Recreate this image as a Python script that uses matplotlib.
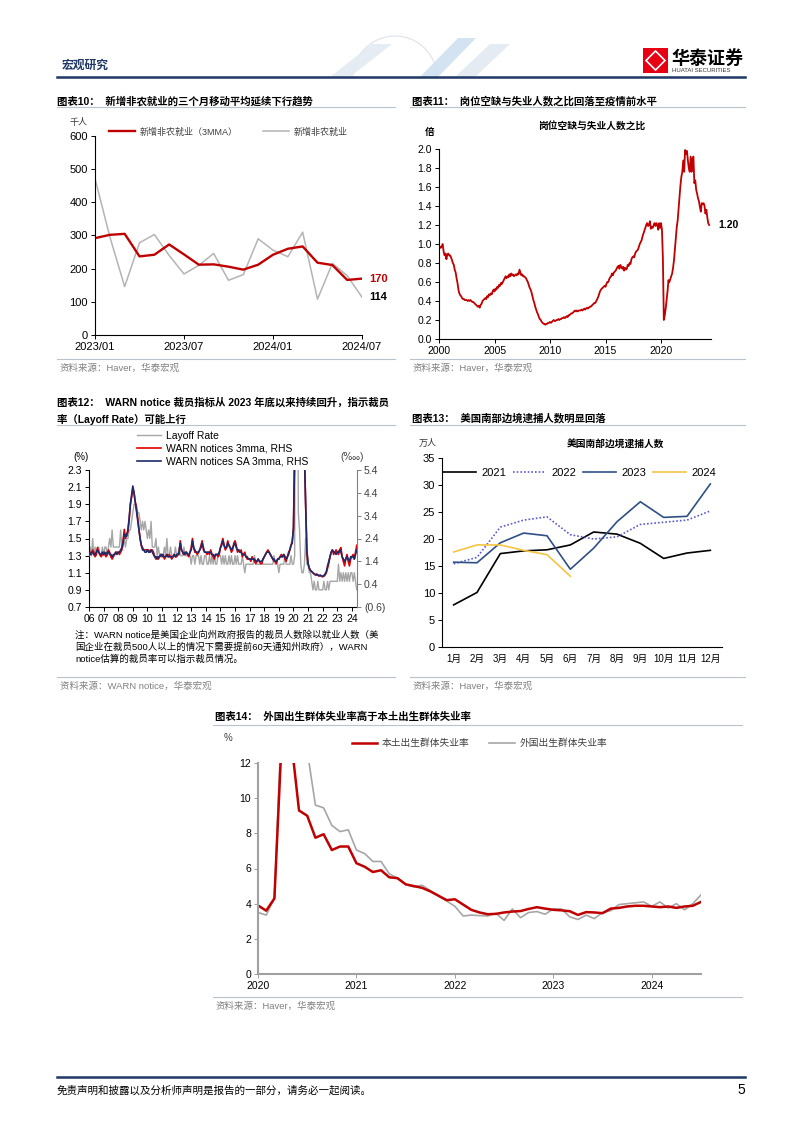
"""
plot.py

Recreate page 5 of the macro report: five small charts on one page
(non-farm payrolls, V/U ratio, WARN layoffs, border arrests, unemployment
by birth origin). Saves out.png at 802x1133.
"""

import matplotlib
matplotlib.use("Agg")
import matplotlib.pyplot as plt
import numpy as np
from matplotlib.lines import Line2D
from matplotlib.patches import Rectangle, Polygon, Arc

# ---------------------------------------------------------------- data ----
# chart 10: non-farm payrolls, thousand persons
months10 = ["2023/01", "2023/02", "2023/03", "2023/04", "2023/05", "2023/06",
            "2023/07", "2023/08", "2023/09", "2023/10", "2023/11", "2023/12",
            "2024/01", "2024/02", "2024/03", "2024/04", "2024/05", "2024/06",
            "2024/07"]
nfp_3mma = [292, 302, 305, 237, 242, 273, 243, 212, 213, 206, 197, 212,
            242, 260, 267, 218, 211, 166, 170]
nfp = [472, 296, 146, 278, 303, 240, 184, 210, 246, 165, 182, 290,
       256, 236, 310, 108, 216, 179, 114]

# chart 11: job openings / unemployed, monthly from 2000-01
vu_start = 2000
vu_ratio = [
    0.95, 0.97, 0.96, 0.98, 1.00, 0.92, 0.88, 0.90, 0.84, 0.89, 0.90, 0.88,
    0.88, 0.86, 0.83, 0.80, 0.78, 0.73, 0.70, 0.64, 0.59, 0.52, 0.48, 0.46,
    0.45, 0.43, 0.42, 0.42, 0.41, 0.41, 0.41, 0.40, 0.41, 0.40, 0.41, 0.40,
    0.39, 0.39, 0.38, 0.37, 0.36, 0.35, 0.34, 0.35, 0.33, 0.36, 0.37, 0.40,
    0.41, 0.42, 0.43, 0.42, 0.45, 0.44, 0.47, 0.46, 0.48, 0.47, 0.50, 0.52,
    0.50, 0.53, 0.52, 0.55, 0.54, 0.57, 0.56, 0.59, 0.58, 0.60, 0.62, 0.64,
    0.66, 0.64, 0.66, 0.65, 0.68, 0.66, 0.69, 0.67, 0.68, 0.66, 0.67, 0.68,
    0.67, 0.69, 0.68, 0.73, 0.70, 0.67, 0.68, 0.66, 0.66, 0.65, 0.64, 0.62,
    0.60, 0.57, 0.54, 0.52, 0.49, 0.45, 0.41, 0.38, 0.34, 0.31, 0.28, 0.26,
    0.23, 0.21, 0.20, 0.18, 0.17, 0.16, 0.16, 0.15, 0.16, 0.16, 0.17, 0.17,
    0.18, 0.17, 0.18, 0.19, 0.20, 0.19, 0.19, 0.20, 0.20, 0.21, 0.20, 0.21,
    0.21, 0.22, 0.22, 0.23, 0.22, 0.23, 0.24, 0.23, 0.25, 0.25, 0.26, 0.27,
    0.27, 0.28, 0.29, 0.30, 0.29, 0.30, 0.29, 0.30, 0.30, 0.30, 0.31, 0.30,
    0.31, 0.32, 0.31, 0.32, 0.33, 0.32, 0.33, 0.34, 0.34, 0.35, 0.36, 0.37,
    0.38, 0.38, 0.40, 0.42, 0.44, 0.47, 0.50, 0.52, 0.53, 0.54, 0.55, 0.56,
    0.55, 0.58, 0.60, 0.60, 0.63, 0.65, 0.66, 0.69, 0.67, 0.70, 0.71, 0.72,
    0.74, 0.76, 0.77, 0.74, 0.78, 0.76, 0.74, 0.76, 0.72, 0.75, 0.73, 0.74,
    0.78, 0.77, 0.80, 0.79, 0.84, 0.86, 0.87, 0.86, 0.90, 0.92, 0.93, 0.94,
    0.97, 1.00, 1.02, 1.04, 1.08, 1.11, 1.14, 1.17, 1.20, 1.22, 1.19, 1.20,
    1.24, 1.16, 1.18, 1.17, 1.20, 1.22, 1.19, 1.22, 1.20, 1.15, 1.22, 1.17,
    1.22, 1.15, 0.85, 0.20, 0.25, 0.32, 0.41, 0.50, 0.62, 0.60, 0.63, 0.66,
    0.69, 0.75, 0.83, 0.95, 1.08, 1.18, 1.25, 1.38, 1.50, 1.62, 1.71, 1.76,
    1.88, 1.76, 1.99, 1.95, 1.98, 1.88, 1.80, 1.76, 1.92, 1.76, 1.90, 1.92,
    1.64, 1.67, 1.57, 1.53, 1.48, 1.45, 1.39, 1.34, 1.43, 1.42, 1.43, 1.40,
    1.32, 1.36, 1.28, 1.22, 1.20,
]

# chart 12: layoff rate (%, LHS) and WARN notices (per ten thousand, RHS)
warn_start = 2006
warn_years = ["06", "07", "08", "09", "10", "11", "12", "13", "14", "15",
              "16", "17", "18", "19", "20", "21", "22", "23", "24"]
layoff_rate = [
    1.3, 1.4, 1.3, 1.5, 1.3, 1.4, 1.3, 1.4, 1.4, 1.3, 1.3, 1.4,
    1.3, 1.4, 1.4, 1.3, 1.4, 1.5, 1.4, 1.6, 1.4, 1.4, 1.4, 1.4,
    1.4, 1.4, 1.6, 1.4, 1.4, 1.5, 1.4, 1.5, 1.5, 1.6, 1.6, 1.7,
    1.8, 1.9, 1.9, 1.9, 1.8, 1.8, 1.7, 1.6, 1.7, 1.6, 1.7, 1.6,
    1.5, 1.6, 1.5, 1.7, 1.4, 1.4, 1.4, 1.5, 1.3, 1.4, 1.3, 1.3,
    1.3, 1.3, 1.4, 1.3, 1.5, 1.3, 1.3, 1.4, 1.3, 1.3, 1.3, 1.4,
    1.3, 1.3, 1.4, 1.3, 1.3, 1.3, 1.4, 1.3, 1.3, 1.3, 1.3, 1.3,
    1.2, 1.3, 1.3, 1.2, 1.3, 1.3, 1.3, 1.2, 1.3, 1.2, 1.2, 1.3,
    1.3, 1.2, 1.2, 1.3, 1.2, 1.3, 1.2, 1.3, 1.2, 1.2, 1.3, 1.3,
    1.3, 1.2, 1.3, 1.2, 1.3, 1.2, 1.2, 1.3, 1.2, 1.3, 1.2, 1.2,
    1.3, 1.2, 1.3, 1.2, 1.2, 1.2, 1.3, 1.2, 1.1, 1.2, 1.2, 1.2,
    1.2, 1.2, 1.2, 1.2, 1.3, 1.2, 1.2, 1.2, 1.2, 1.2, 1.2, 1.2,
    1.2, 1.2, 1.2, 1.2, 1.2, 1.2, 1.2, 1.2, 1.3, 1.2, 1.2, 1.2,
    1.1, 1.2, 1.2, 1.2, 1.2, 1.3, 1.2, 1.2, 1.2, 1.2, 1.3, 1.2,
    1.2, 1.3, 7.5, 5.9, 1.8, 1.6, 1.2, 1.1, 1.1, 1.2, 1.5, 1.2,
    1.2, 1.1, 1.1, 1.0, 0.9, 1.0, 0.9, 0.9, 1.0, 0.9, 0.9, 0.9,
    0.9, 1.0, 0.9, 0.9, 1.0, 0.9, 1.0, 1.0, 1.0, 1.0, 1.0, 1.0,
    1.0, 1.2, 1.0, 1.1, 1.0, 1.1, 1.0, 1.1, 1.0, 1.1, 1.0, 1.1,
    1.1, 1.0, 1.1, 1.0, 0.9,
]
warn_3mma = [
    1.6, 1.8, 1.7, 1.9, 1.8, 1.6, 1.7, 2.0, 1.8, 1.7, 1.6, 1.7,
    1.8, 1.7, 1.6, 1.7, 1.9, 1.8, 1.6, 1.5, 1.6, 1.7, 1.8, 1.8,
    1.8, 1.7, 1.8, 1.9, 2.3, 2.8, 2.4, 2.6, 2.7, 3.2, 3.9, 4.2,
    4.6, 4.4, 4.0, 3.7, 3.3, 2.8, 2.4, 2.1, 2.0, 1.9, 1.9, 1.9,
    1.9, 1.9, 1.8, 1.9, 1.9, 1.8, 1.6, 1.5, 1.6, 1.5, 1.6, 1.7,
    1.6, 1.7, 1.5, 1.6, 1.7, 1.6, 1.7, 1.6, 1.5, 1.6, 1.7, 1.6,
    1.6, 1.7, 1.7, 2.3, 1.9, 1.8, 1.7, 1.7, 1.8, 1.7, 1.6, 1.8,
    2.0, 2.4, 2.0, 1.8, 1.8, 1.7, 1.8, 1.9, 2.1, 2.3, 1.9, 1.8,
    1.8, 1.7, 1.8, 1.7, 1.9, 1.7, 1.6, 1.5, 1.7, 1.7, 1.6, 1.7,
    2.0, 2.2, 2.4, 2.1, 1.9, 2.0, 2.3, 2.1, 2.0, 1.8, 1.9, 2.2,
    2.3, 2.1, 1.8, 1.9, 1.8, 1.9, 1.6, 1.7, 1.8, 1.6, 1.5, 1.5,
    1.5, 1.4, 1.6, 1.5, 1.4, 1.3, 1.4, 1.5, 1.4, 1.3, 1.3, 1.5,
    1.6, 1.7, 1.8, 1.9, 1.8, 1.7, 1.6, 1.5, 1.4, 1.4, 1.3, 1.5,
    1.5, 1.6, 1.7, 1.6, 1.7, 1.5, 1.4, 1.6, 1.8, 1.9, 2.1, 2.3,
    2.8, 6.0, 15.0, 25.0, 28.0, 22.0, 16.0, 11.0, 8.0, 6.0, 3.8, 1.8,
    1.3, 1.1, 1.0, 0.95, 0.9, 0.85, 0.8, 0.85, 0.8, 0.75, 0.8, 0.75,
    0.72, 0.75, 0.8, 0.9, 1.1, 1.3, 1.6, 1.8, 1.9, 1.7, 1.8, 1.9,
    1.8, 1.7, 1.9, 2.0, 1.6, 1.4, 1.2, 1.5, 1.7, 1.4, 1.2, 1.5,
    1.6, 1.7, 1.5, 1.8, 2.1,
]
warn_sa_3mma = [
    1.7, 1.7, 1.8, 1.8, 1.7, 1.7, 1.8, 1.9, 1.8, 1.7, 1.7, 1.8,
    1.7, 1.8, 1.7, 1.8, 1.8, 1.7, 1.7, 1.6, 1.7, 1.7, 1.8, 1.7,
    1.8, 1.8, 1.9, 2.0, 2.2, 2.6, 2.5, 2.5, 2.8, 3.3, 3.9, 4.3,
    4.7, 4.4, 4.0, 3.6, 3.2, 2.8, 2.4, 2.1, 1.9, 1.9, 1.8, 1.8,
    1.9, 1.8, 1.8, 1.9, 1.8, 1.7, 1.6, 1.6, 1.5, 1.6, 1.6, 1.7,
    1.7, 1.6, 1.6, 1.6, 1.7, 1.6, 1.6, 1.6, 1.6, 1.6, 1.7, 1.6,
    1.7, 1.7, 1.8, 2.2, 1.9, 1.8, 1.7, 1.8, 1.8, 1.7, 1.7, 1.8,
    1.9, 2.3, 2.0, 1.9, 1.8, 1.8, 1.8, 1.9, 2.0, 2.2, 2.0, 1.8,
    1.8, 1.8, 1.8, 1.8, 1.8, 1.7, 1.7, 1.6, 1.7, 1.7, 1.7, 1.8,
    2.0, 2.1, 2.3, 2.1, 2.0, 2.0, 2.2, 2.1, 2.0, 1.9, 2.0, 2.1,
    2.2, 2.0, 1.9, 1.9, 1.8, 1.8, 1.7, 1.7, 1.7, 1.6, 1.6, 1.5,
    1.5, 1.5, 1.5, 1.5, 1.5, 1.4, 1.4, 1.5, 1.4, 1.4, 1.4, 1.5,
    1.6, 1.7, 1.8, 1.8, 1.8, 1.7, 1.6, 1.5, 1.5, 1.4, 1.4, 1.5,
    1.5, 1.6, 1.6, 1.6, 1.7, 1.6, 1.5, 1.6, 1.7, 1.9, 2.1, 2.2,
    2.9, 6.5, 15.0, 25.0, 28.0, 22.0, 16.0, 11.0, 8.0, 6.2, 3.9, 1.9,
    1.3, 1.1, 1.0, 0.95, 0.9, 0.85, 0.82, 0.8, 0.8, 0.78, 0.78, 0.75,
    0.75, 0.78, 0.85, 0.95, 1.2, 1.4, 1.6, 1.8, 1.9, 1.8, 1.8, 1.7,
    1.8, 1.8, 1.9, 1.8, 1.6, 1.5, 1.4, 1.5, 1.6, 1.5, 1.4, 1.6,
    1.6, 1.6, 1.5, 1.7, 1.9,
]

# chart 13: southern border apprehensions, 10k persons
months13 = ["1月", "2月", "3月", "4月", "5月", "6月",
            "7月", "8月", "9月", "10月", "11月", "12月"]
arrests_2021 = [7.8, 10.1, 17.3, 17.8, 18.0, 18.9, 21.3, 20.9, 19.2, 16.4, 17.4, 17.9]
arrests_2022 = [15.4, 16.6, 22.2, 23.5, 24.1, 20.8, 20.0, 20.4, 22.7, 23.1, 23.5, 25.2]
arrests_2023 = [15.7, 15.6, 19.3, 21.1, 20.6, 14.4, 18.3, 23.2, 26.9, 24.0, 24.2, 30.2]
arrests_2024 = [17.6, 18.9, 18.9, 17.9, 17.1, 13.1]

# chart 14: unemployment rate by birth origin, %, monthly from 2020-01
unemp_start = 2020
native_born = [
    3.9, 3.6, 4.3, 14.5, 13.5, 9.3, 9.0, 7.75, 7.95, 7.05, 7.25, 7.25,
    6.3, 6.1, 5.8, 5.9, 5.5, 5.45, 5.1, 5.0, 4.9, 4.7, 4.45, 4.2,
    4.25, 3.95, 3.65, 3.5, 3.4, 3.42, 3.5, 3.55, 3.58, 3.7, 3.8, 3.72,
    3.65, 3.62, 3.57, 3.36, 3.52, 3.5, 3.46, 3.72, 3.76, 3.84, 3.88, 3.88,
    3.84, 3.8, 3.84, 3.76, 3.84, 3.88, 4.1,
]
foreign_born = [
    3.5, 3.35, 4.3, 16.0, 15.0, 13.8, 12.7, 9.6, 9.45, 8.45, 8.1, 8.2,
    7.05, 6.85, 6.4, 6.4, 5.7, 5.45, 5.1, 4.95, 5.05, 4.75, 4.45, 4.15,
    3.85, 3.3, 3.35, 3.32, 3.3, 3.45, 3.05, 3.7, 3.2, 3.5, 3.55, 3.4,
    3.7, 3.7, 3.25, 3.1, 3.35, 3.15, 3.5, 3.6, 3.95, 4.0, 4.05, 4.1,
    3.85, 4.1, 3.75, 4.0, 3.65, 4.0, 4.5,
]
unemp_years = [2020, 2021, 2022, 2023, 2024]

# --------------------------------------------------------------- style ----
W, H = 802, 1133
RED = "#c00000"
NAVY = "#1f3864"
GREY_LINE = "#b4b4b4"
RULE = "#b9c3cd"
SRC = "#808080"

plt.rcParams["font.family"] = ["Liberation Sans", "Noto Sans CJK SC", "DejaVu Sans"]
plt.rcParams["axes.unicode_minus"] = False

fig = plt.figure(figsize=(W / 100, H / 100), dpi=100)


def axes_px(left, top, right, bottom):
    return fig.add_axes([left / W, 1 - bottom / H, (right - left) / W, (bottom - top) / H])


def text_px(x, y, s, **kw):
    kw.setdefault("va", "center")
    return fig.text(x / W, 1 - y / H, s, **kw)


def rule_px(x0, x1, y, color=RULE, lw=0.8):
    fig.add_artist(Line2D([x0 / W, x1 / W], [1 - y / H, 1 - y / H], color=color, lw=lw))


def style_axes(ax, color="black", size=8):
    for side in ("top", "right"):
        ax.spines[side].set_visible(False)
    for side in ("left", "bottom"):
        ax.spines[side].set_color(color)
        ax.spines[side].set_linewidth(0.8)
    ax.tick_params(direction="out", length=3, width=0.7, color=color,
                   labelsize=size, pad=2)


def fig_anchor(x, y):
    return (x / W, 1 - y / H)


# -------------------------------------------------------- page furniture --
# header decoration (faint globe outline and chevrons)
fig.add_artist(Arc(fig_anchor(395, 78), 84 / W, 84 / H, theta1=0, theta2=180,
                   transform=fig.transFigure, ec="#dde3ea", lw=0.8))
for pts, col in [([(330, 77), (372, 44), (392, 44), (350, 77)], "#e3eaf2"),
                 ([(420, 77), (458, 38), (476, 38), (438, 77)], "#cfe0f0"),
                 ([(455, 77), (490, 44), (510, 44), (475, 77)], "#e2e9f1")]:
    fig.add_artist(Polygon([fig_anchor(x, y) for x, y in pts], closed=True,
                           transform=fig.transFigure, fc=col, ec="none", alpha=0.9))

text_px(62, 65, "宏观研究", fontsize=8.5, fontweight="bold", color=NAVY,
        family=["Noto Sans CJK SC"])
rule_px(57, 745, 77, color=NAVY, lw=1.8)

fig.add_artist(Rectangle(fig_anchor(643, 73), 25 / W, 25 / H,
                         transform=fig.transFigure, fc="#e60012", ec="none"))
fig.add_artist(Polygon([fig_anchor(x, y) for x, y in
                        [(655.5, 51), (665, 60.5), (655.5, 70), (646, 60.5)]],
                       closed=True, transform=fig.transFigure,
                       fc="none", ec="white", lw=1.2))
text_px(672, 58, "华泰证券", fontsize=13, fontweight="bold", color="black",
        family=["Noto Sans CJK SC"])
text_px(672, 70.5, "HUATAI SECURITIES", fontsize=4.3, color="#333333")

rule_px(57, 745, 1077, color=NAVY, lw=1.8)
text_px(57, 1090, "免责声明和披露以及分析师声明是报告的一部分，请务必一起阅读。",
        fontsize=7.6, color="black", family=["Noto Sans CJK SC"])
text_px(745, 1090, "5", fontsize=10, ha="right")

# ---------------------------------------------------------- chart titles --
title_kw = dict(fontsize=7.5, fontweight="bold", color="black")
text_px(57, 101, "图表10：  新增非农就业的三个月移动平均延续下行趋势", **title_kw)
rule_px(57, 395, 107)
text_px(412, 101, "图表11：  岗位空缺与失业人数之比回落至疫情前水平", **title_kw)
rule_px(410, 745, 107)
text_px(57, 402, "图表12：  WARN notice 裁员指标从 2023 年底以来持续回升，指示裁员", **title_kw)
text_px(57, 419, "率（Layoff Rate）可能上行", **title_kw)
rule_px(57, 395, 425)
text_px(412, 418, "图表13：  美国南部边境逮捕人数明显回落", **title_kw)
rule_px(410, 745, 425)
text_px(215, 717, "图表14：  外国出生群体失业率高于本土出生群体失业率", **title_kw)
rule_px(213, 742, 725)

src_kw = dict(fontsize=6.8, color=SRC)
for x0, x1, y in [(57, 395, 359), (410, 745, 359), (57, 395, 677),
                  (410, 745, 677), (213, 742, 997)]:
    rule_px(x0, x1, y)
text_px(60, 368, "资料来源：Haver，华泰宏观", **src_kw)
text_px(413, 368, "资料来源：Haver，华泰宏观", **src_kw)
text_px(60, 686, "资料来源：WARN notice，华泰宏观", **src_kw)
text_px(413, 686, "资料来源：Haver，华泰宏观", **src_kw)
text_px(216, 1006, "资料来源：Haver，华泰宏观", **src_kw)

# ------------------------------------------------------------ chart 10 ----
ax = axes_px(95, 136, 362, 335)
style_axes(ax)
x10 = np.arange(len(months10))
g10, = ax.plot(x10, nfp, color=GREY_LINE, lw=1.1, label="新增非农就业")
r10, = ax.plot(x10, nfp_3mma, color=RED, lw=1.7, label="新增非农就业（3MMA）")
ax.set_xlim(0, len(months10) - 1)
ax.set_ylim(0, 600)
ax.set_yticks(range(0, 601, 100))
ax.set_xticks(x10[::6])
ax.set_xticklabels(months10[::6])
ax.legend(handles=[r10, g10], ncol=2, loc="center left", frameon=False,
          bbox_to_anchor=fig_anchor(109, 132), bbox_transform=fig.transFigure,
          fontsize=6.5, handlelength=2.9, handletextpad=0.5, columnspacing=2.8,
          borderaxespad=0, borderpad=0, labelcolor="#404040")
ax.annotate(f"{nfp_3mma[-1]}", (x10[-1], nfp_3mma[-1]), xytext=(5, 0),
            textcoords="offset points", va="center", fontsize=8,
            fontweight="bold", color=RED, annotation_clip=False)
ax.annotate(f"{nfp[-1]}", (x10[-1], nfp[-1]), xytext=(5, 0),
            textcoords="offset points", va="center", fontsize=8,
            fontweight="bold", color="black", annotation_clip=False)
text_px(78, 123, "千人", fontsize=6.5, ha="center", color="#333333")

# ------------------------------------------------------------ chart 11 ----
ax = axes_px(439, 149, 711, 339)
style_axes(ax, size=7.5)
x11 = vu_start + np.arange(len(vu_ratio)) / 12
ax.plot(x11, vu_ratio, color=RED, lw=1.3)
ax.set_xlim(2000, 2024.5)
ax.set_ylim(0, 2.0)
ax.set_yticks(np.arange(0, 2.01, 0.2))
ax.set_yticklabels([f"{v:.1f}" for v in np.arange(0, 2.01, 0.2)])
ax.set_xticks(range(2000, 2021, 5))
ax.annotate(f"{vu_ratio[-1]:.2f}", (x11[-1], vu_ratio[-1]), xytext=(7, 0),
            textcoords="offset points", va="center", fontsize=7.5,
            fontweight="bold", annotation_clip=False)
text_px(592, 126, "岗位空缺与失业人数之比", fontsize=7, fontweight="bold", ha="center")
text_px(430, 132, "倍", fontsize=7, fontweight="bold", ha="center")

# ------------------------------------------------------------ chart 12 ----
ax = axes_px(89, 470, 357, 607)
style_axes(ax, size=7.5)
x12 = warn_start + np.arange(len(layoff_rate)) / 12
g12, = ax.plot(x12, layoff_rate, color="#a6a6a6", lw=1.0, label="Layoff Rate")
ax.set_xlim(2006, 2024.35)
ax.set_ylim(0.7, 2.3)
lticks = np.arange(0.7, 2.31, 0.2)
ax.set_yticks(lticks)
ax.set_yticklabels([f"{v:.1f}" for v in lticks])
ax.set_xticks(range(warn_start, warn_start + len(warn_years)))
ax.set_xticklabels(warn_years)

ax2 = ax.twinx()
ax2.set_position(ax.get_position())
r12, = ax2.plot(x12, warn_3mma, color="#e00000", lw=1.2, label="WARN notices 3mma, RHS")
n12, = ax2.plot(x12, warn_sa_3mma, color="#1f2a6b", lw=1.2, label="WARN notices SA 3mma, RHS")
ax2.set_ylim(-0.6, 5.4)
rticks = np.arange(-0.6, 5.41, 1.0)
ax2.set_yticks(rticks)
ax2.set_yticklabels([f"({abs(v):.1f})" if v < 0 else f"{v:.1f}" for v in rticks])
ax2.spines["top"].set_visible(False)
ax2.spines["left"].set_visible(False)
ax2.spines["bottom"].set_visible(False)
ax2.spines["right"].set_color("#808080")
ax2.tick_params(direction="out", length=3, width=0.7, color="#808080",
                labelsize=7.5, pad=2, labelcolor="#404040")
ax2.legend(handles=[g12, r12, n12], loc="upper left", frameon=False,
           bbox_to_anchor=fig_anchor(137, 431), bbox_transform=fig.transFigure,
           fontsize=7.5, handlelength=2.3, handletextpad=0.5, labelspacing=0.28,
           borderaxespad=0, borderpad=0)
text_px(81, 457, "(%)", fontsize=7, ha="center")
text_px(352, 457, "(‱)", fontsize=7, ha="center", color="#404040")
note_kw = dict(fontsize=6.8, color="black")
text_px(75, 635, "注：WARN notice是美国企业向州政府报告的裁员人数除以就业人数（美", **note_kw)
text_px(75, 647, "国企业在裁员500人以上的情况下需要提前60天通知州政府），WARN", **note_kw)
text_px(75, 659, "notice估算的裁员率可以指示裁员情况。", **note_kw)

# ------------------------------------------------------------ chart 13 ----
ax = axes_px(442, 458, 722, 647)
style_axes(ax, size=7)
ax.tick_params(axis="x", length=0, pad=5)
x13 = np.arange(len(months13))
h1, = ax.plot(x13, arrests_2021, color="black", lw=1.2, label="2021")
h2, = ax.plot(x13, arrests_2022, color="#5b5bd0", lw=1.2, ls=(0, (1, 1.2)), label="2022")
h3, = ax.plot(x13, arrests_2023, color="#2f4f85", lw=1.2, label="2023")
h4, = ax.plot(x13[:len(arrests_2024)], arrests_2024, color="#f5c542", lw=1.2, label="2024")
ax.set_xlim(-0.5, len(months13) - 0.5)
ax.set_ylim(0, 35)
ax.set_yticks(range(0, 36, 5))
ax.set_xticks(x13)
ax.set_xticklabels(months13)
ax.tick_params(axis="y", labelsize=8)
ax.legend(handles=[h1, h2, h3, h4], ncol=4, loc="center left", frameon=False,
          bbox_to_anchor=fig_anchor(443, 473), bbox_transform=fig.transFigure,
          fontsize=8, handlelength=3.0, handletextpad=0.45, columnspacing=0.6,
          borderaxespad=0, borderpad=0)
text_px(615, 445, "美国南部边境逮捕人数", fontsize=7, fontweight="bold", ha="center")
text_px(428, 443, "万人", fontsize=6.5, ha="center", color="#333333")

# ------------------------------------------------------------ chart 14 ----
ax = axes_px(258, 763, 701, 974)
style_axes(ax, color="#a0a0a0", size=7.5)
for side in ("left", "bottom"):
    ax.spines[side].set_linewidth(1.5)
ax.tick_params(labelcolor="black")
x14 = unemp_start + np.arange(len(native_born)) / 12
f14, = ax.plot(x14, foreign_born, color="#a6a6a6", lw=1.2, label="外国出生群体失业率")
n14, = ax.plot(x14, native_born, color=RED, lw=1.8, label="本土出生群体失业率")
ax.set_xlim(2020, 2024.5)
ax.set_ylim(0, 12)
ax.set_yticks(range(0, 13, 2))
ax.set_xticks(unemp_years)
ax.legend(handles=[n14, f14], ncol=2, loc="center left", frameon=False,
          bbox_to_anchor=fig_anchor(352, 743), bbox_transform=fig.transFigure,
          fontsize=7, handlelength=2.6, handletextpad=0.5, columnspacing=2.0,
          borderaxespad=0, borderpad=0, labelcolor="#404040")
text_px(228, 738, "%", fontsize=7, ha="center", color="#404040")

fig.savefig("out.png", dpi=100)
plt.close(fig)
